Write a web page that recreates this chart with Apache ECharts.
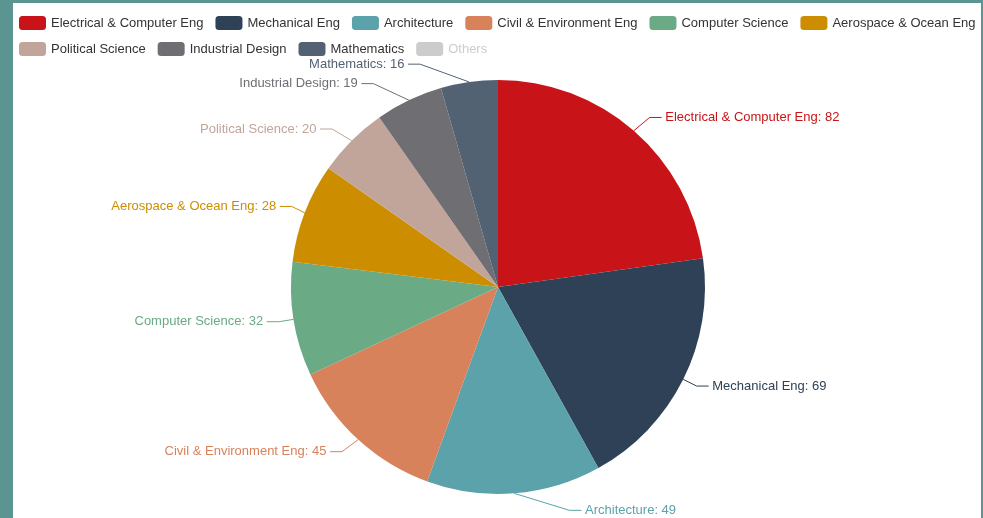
<!DOCTYPE html>
<html>
<head>
<meta charset="utf-8">
<script src="https://cdn.jsdelivr.net/npm/echarts@6/dist/echarts.min.js"></script>
<style>
html, body { margin: 0; padding: 0; width: 983px; height: 518px; background: #5b9592; overflow: hidden; }
#chart { position: absolute; left: 13px; top: 3px; width: 968px; height: 515px; background: #ffffff; }
</style>
</head>
<body>
<div id="chart"></div>
<script>
const categories = ['Electrical & Computer Eng', 'Mechanical Eng', 'Architecture', 'Civil & Environment Eng', 'Computer Science', 'Aerospace & Ocean Eng', 'Political Science', 'Industrial Design', 'Mathematics', 'Others'];
const values = [82, 69, 49, 45, 32, 28, 20, 19, 16, 12];
const colors = ['#c81418', '#2e4156', '#5ba2aa', '#d8825c', '#6aaa84', '#cc8e00', '#c1a59b', '#6f6e73', '#536273', '#9aa5ad'];
// label nudges (styling only)
const labelShiftX = [1, -5, 49, -1, 5, 6, -4, -24, -42, 0];
const labelShiftY = [-2, 0, 2, 1, 0, -1, -1, -3, -3, 0];
const rightSide = [true, true, true, false, false, false, false, false, false, false];

const chart = echarts.init(document.getElementById('chart'));
const font = 'Liberation Sans, Arial, sans-serif';
chart.setOption({
  color: colors,
  textStyle: { fontFamily: font },
  legend: {
    left: 1,
    top: 8,
    width: 975,
    itemWidth: 27,
    itemHeight: 14,
    itemGap: 12,
    inactiveColor: '#cccccc',
    textStyle: { fontSize: 13, color: '#333', fontFamily: font },
    data: categories,
    selected: { 'Others': false }
  },
  series: [{
    type: 'pie',
    center: [485, 284],
    radius: 207,
    startAngle: 90,
    data: categories.map((c, i) => ({
      name: c, value: values[i],
      label: { color: colors[i], formatter: rightSide[i] ? ' {b}: {c}' : '{b}: {c} ' }
    })),
    label: {
      fontSize: 13,
      fontFamily: font
    },
    labelLine: { length: 15, length2: 12 },
    labelLayout: function (p) {
      const i = p.dataIndex;
      return {
        x: p.labelRect.x + (labelShiftX[i] || 0) + (p.align === 'right' ? p.labelRect.width : 0),
        y: p.labelRect.y + (labelShiftY[i] || 0) + p.labelRect.height / 2
      };
    }
  }]
});
</script>
</body>
</html>
